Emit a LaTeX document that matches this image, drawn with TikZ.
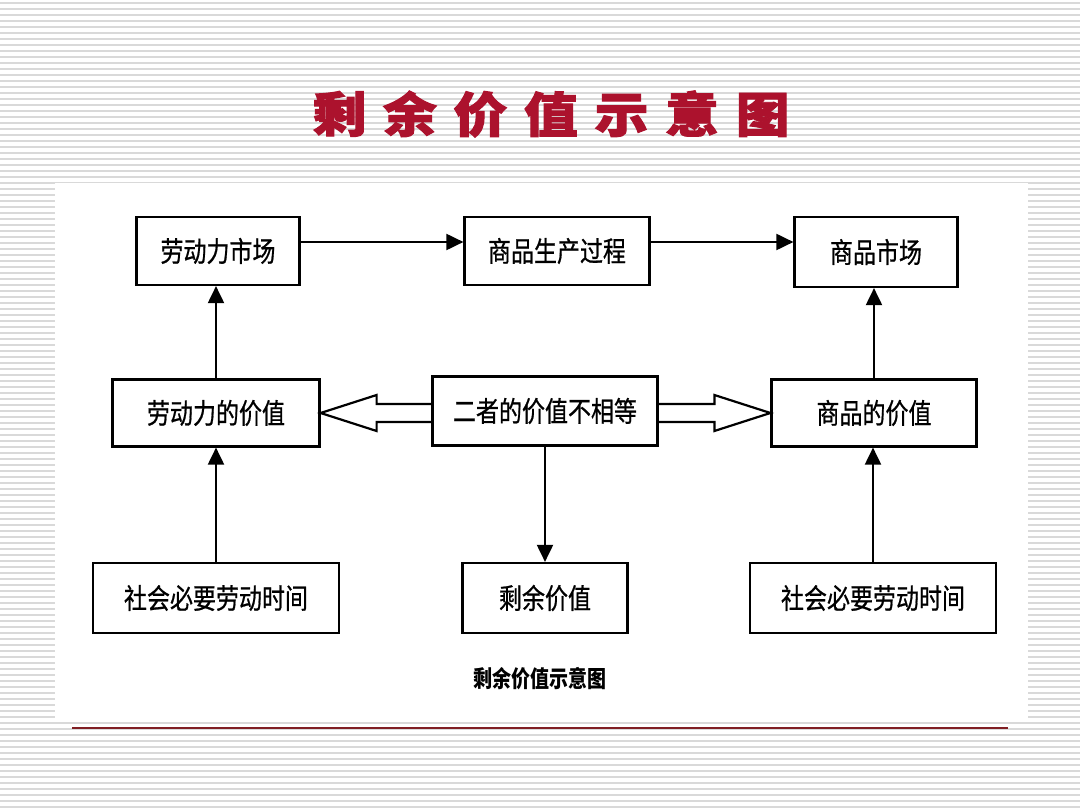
\documentclass[tikz,border=0pt]{standalone}
\usepackage{fontspec}
\usepackage{graphicx}
\newfontfamily\cjk{Noto Sans CJK SC}
\newfontfamily\cjkbox{Noto Sans CJK SC}[FakeBold=0.8]
\newfontfamily\cjkt{Noto Sans CJK SC}[BoldFeatures={FakeBold=2}]
\usetikzlibrary{arrows.meta,calc}
\newcommand\tallt[1]{\scalebox{1}[1.22]{#1}}
\newcommand\tsp{\hspace{15pt}}
\definecolor{titlered}{RGB}{172,18,45}
\definecolor{rulered}{RGB}{128,30,35}
\tikzset{
  box/.style={draw=black, line width=2.2pt, fill=white, font=\cjkbox\fontsize{23}{23}\selectfont, inner sep=0pt, anchor=center},
  conn/.style={line width=2pt, -{Triangle[length=17pt,width=16pt]}},
  hollow/.style={line width=2.2pt, line join=miter},
  stripe/.style={line width=2pt, color=black!15},
}
\begin{document}
\begin{tikzpicture}[x=1pt,y=-1pt]
\useasboundingbox (0,0) rectangle (1080,810);
\fill[white] (0,0) rectangle (1080,810);
\foreach \yy in {3,9,...,807} \draw[stripe] (0,\yy) -- (1080,\yy);
\fill[white] (55,183) rectangle (1028,720);
% title
\node[font=\cjkt\fontsize{48}{48}\selectfont\bfseries, text=titlered, inner sep=0pt] (title) at (551,114)
  {\scalebox{1.12}[1]{剩\tsp 余\tsp 价\tsp 值\tsp 示\tsp 意\tsp 图}};
% boxes
\node[box, minimum width=163pt, minimum height=68pt] (lm) at (218,251) {\tallt{劳动力市场}};
\node[box, minimum width=185pt, minimum height=68pt] (pp) at (557,251) {\tallt{商品生产过程}};
\node[box, minimum width=163pt, minimum height=70pt] (cm) at (876,252) {\tallt{商品市场}};
\node[box, minimum width=207pt, minimum height=67pt] (lv) at (216,413) {\tallt{劳动力的价值}};
\node[box, minimum width=225pt, minimum height=69pt] (eq) at (545,411) {\tallt{二者的价值不相等}};
\node[box, minimum width=205pt, minimum height=67pt] (cv) at (874,413) {\tallt{商品的价值}};
\node[box, minimum width=246pt, minimum height=70pt] (ls) at (216,598) {\tallt{社会必要劳动时间}};
\node[box, minimum width=165pt, minimum height=70pt] (sv) at (545,598) {\tallt{剩余价值}};
\node[box, minimum width=246pt, minimum height=70pt] (rs) at (873,598) {\tallt{社会必要劳动时间}};
\node[font=\cjk\fontsize{19}{19}\selectfont\bfseries, inner sep=0pt] (cap) at (540,679) {\tallt{剩余价值示意图}};
% connectors
\draw[conn] ([yshift=9pt]lm.east) -- ([yshift=9pt]lm.east -| pp.west);
\draw[conn] ([yshift=9pt]pp.east) -- ([yshift=9pt]pp.east -| cm.west);
\draw[conn] (lv.north) -- (lv.north |- lm.south);
\draw[conn] (ls.north) -- (ls.north |- lv.south);
\draw[conn] (eq.south) -- (eq.south |- sv.north);
\draw[conn] (cv.north) -- (cv.north |- cm.south);
\draw[conn] (rs.north) -- (rs.north |- cv.south);
% hollow double arrows
\draw[hollow] ($(eq.west|-lv.east)+(0,-9)$) -- ($(lv.east)+(56,-9)$) -- ($(lv.east)+(56,-18)$) -- (lv.east)
  -- ($(lv.east)+(56,18)$) -- ($(lv.east)+(56,9)$) -- ($(eq.west|-lv.east)+(0,9)$);
\draw[hollow] ($(eq.east|-cv.west)+(0,-9)$) -- ($(cv.west)+(-56,-9)$) -- ($(cv.west)+(-56,-18)$) -- (cv.west)
  -- ($(cv.west)+(-56,18)$) -- ($(cv.west)+(-56,9)$) -- ($(eq.east|-cv.west)+(0,9)$);
% bottom rule
\draw[line width=2.5pt, rulered] (72,728) -- (1008,728);
\end{tikzpicture}
\end{document}
